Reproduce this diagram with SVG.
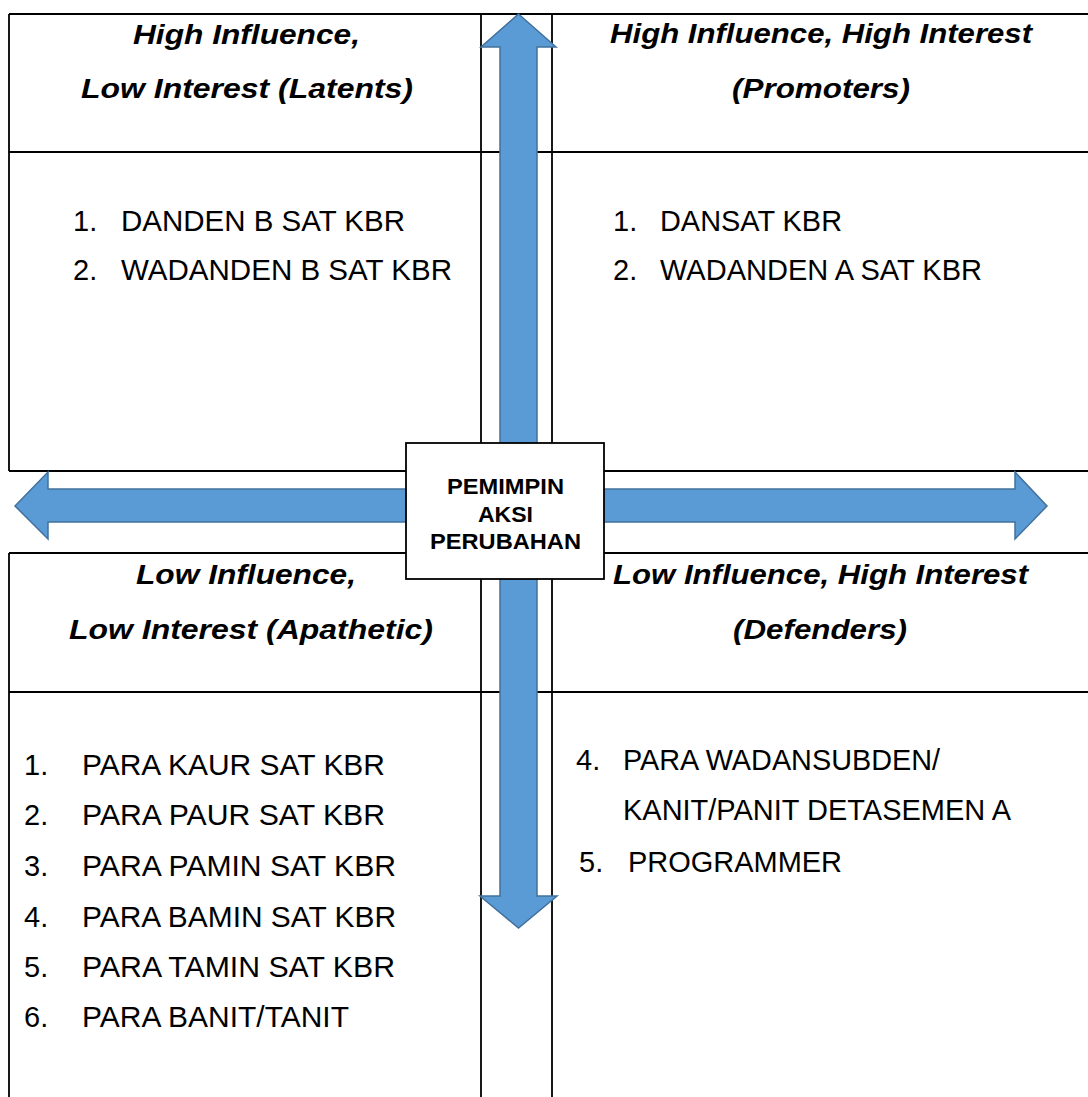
<svg xmlns="http://www.w3.org/2000/svg" width="1088" height="1097" viewBox="0 0 1088 1097">
<style>
.ln{stroke:#000;stroke-width:1.8;fill:none}
.hd{font-family:"Liberation Sans",Arial,sans-serif;font-weight:bold;font-style:italic;font-size:27.5px;fill:#000}
.it{font-family:"Liberation Sans",Arial,sans-serif;font-size:29px;fill:#000}
.ct{font-family:"Liberation Sans",Arial,sans-serif;font-weight:bold;font-size:22.5px;fill:#000}
.arr{fill:#5B9BD5;stroke:#41719C;stroke-width:1.5;stroke-linejoin:miter}
</style>
<rect width="1088" height="1097" fill="#fff"/>
<g id="grid">
<path class="ln" d="M9,14H1090M9,152H1090M9,471H1090M9,14V471M481,14V471M552,14V471"/>
<path class="ln" d="M9,553H1090M9,692H1090M9,553V1100M481,553V1100M552,553V1100"/>
</g>
<g id="q-latents">
<text class="hd" x="133" y="44" textLength="227" lengthAdjust="spacingAndGlyphs">High Influence,</text>
<text class="hd" x="81" y="98" textLength="332" lengthAdjust="spacingAndGlyphs">Low Interest (Latents)</text>
<text class="it" x="73" y="231">1.</text>
<text class="it" x="121" y="231" textLength="284" lengthAdjust="spacingAndGlyphs">DANDEN B SAT KBR</text>
<text class="it" x="73" y="280">2.</text>
<text class="it" x="121" y="280" textLength="331" lengthAdjust="spacingAndGlyphs">WADANDEN B SAT KBR</text>
</g>
<g id="q-promoters">
<text class="hd" x="610" y="43" textLength="422" lengthAdjust="spacingAndGlyphs">High Influence, High Interest</text>
<text class="hd" x="732" y="98" textLength="178" lengthAdjust="spacingAndGlyphs">(Promoters)</text>
<text class="it" x="613" y="231">1.</text>
<text class="it" x="660" y="231" textLength="182" lengthAdjust="spacingAndGlyphs">DANSAT KBR</text>
<text class="it" x="613" y="280">2.</text>
<text class="it" x="660" y="280" textLength="322" lengthAdjust="spacingAndGlyphs">WADANDEN A SAT KBR</text>
</g>
<g id="q-apathetic">
<text class="hd" x="136" y="584" textLength="220" lengthAdjust="spacingAndGlyphs">Low Influence,</text>
<text class="hd" x="69" y="639" textLength="364" lengthAdjust="spacingAndGlyphs">Low Interest (Apathetic)</text>
<text class="it" x="24" y="775">1.</text>
<text class="it" x="82" y="775" textLength="303" lengthAdjust="spacingAndGlyphs">PARA KAUR SAT KBR</text>
<text class="it" x="24" y="825">2.</text>
<text class="it" x="82" y="825" textLength="303" lengthAdjust="spacingAndGlyphs">PARA PAUR SAT KBR</text>
<text class="it" x="24" y="876">3.</text>
<text class="it" x="82" y="876" textLength="314" lengthAdjust="spacingAndGlyphs">PARA PAMIN SAT KBR</text>
<text class="it" x="24" y="927">4.</text>
<text class="it" x="82" y="927" textLength="314" lengthAdjust="spacingAndGlyphs">PARA BAMIN SAT KBR</text>
<text class="it" x="24" y="977">5.</text>
<text class="it" x="82" y="977" textLength="313" lengthAdjust="spacingAndGlyphs">PARA TAMIN SAT KBR</text>
<text class="it" x="24" y="1027">6.</text>
<text class="it" x="82" y="1027" textLength="267" lengthAdjust="spacingAndGlyphs">PARA BANIT/TANIT</text>
</g>
<g id="q-defenders">
<text class="hd" x="613" y="584" textLength="415" lengthAdjust="spacingAndGlyphs">Low Influence, High Interest</text>
<text class="hd" x="733" y="639" textLength="174" lengthAdjust="spacingAndGlyphs">(Defenders)</text>
<text class="it" x="576" y="770">4.</text>
<text class="it" x="623" y="770" textLength="317" lengthAdjust="spacingAndGlyphs">PARA WADANSUBDEN/</text>
<text class="it" x="623" y="820" textLength="388" lengthAdjust="spacingAndGlyphs">KANIT/PANIT DETASEMEN A</text>
<text class="it" x="579" y="872">5.</text>
<text class="it" x="628" y="872" textLength="214" lengthAdjust="spacingAndGlyphs">PROGRAMMER</text>
</g>
<g id="connectors">
<polygon class="arr" points="518.5,14 556,47 537,47 537,896 557,896 518.5,928 480,896 500,896 500,47 481,47"/>
<polygon class="arr" points="15,506 48,472 48,489 1015,489 1015,472 1047,506 1015,539 1015,522 48,522 48,539"/>
</g>
<g id="center">
<rect x="406" y="443" width="198" height="136" fill="#fff" stroke="#000" stroke-width="1.8"/>
<text class="ct" x="447" y="494" textLength="117" lengthAdjust="spacingAndGlyphs">PEMIMPIN</text>
<text class="ct" x="478" y="521.5" textLength="55" lengthAdjust="spacingAndGlyphs">AKSI</text>
<text class="ct" x="430" y="549" textLength="151" lengthAdjust="spacingAndGlyphs">PERUBAHAN</text>
</g>
</svg>
